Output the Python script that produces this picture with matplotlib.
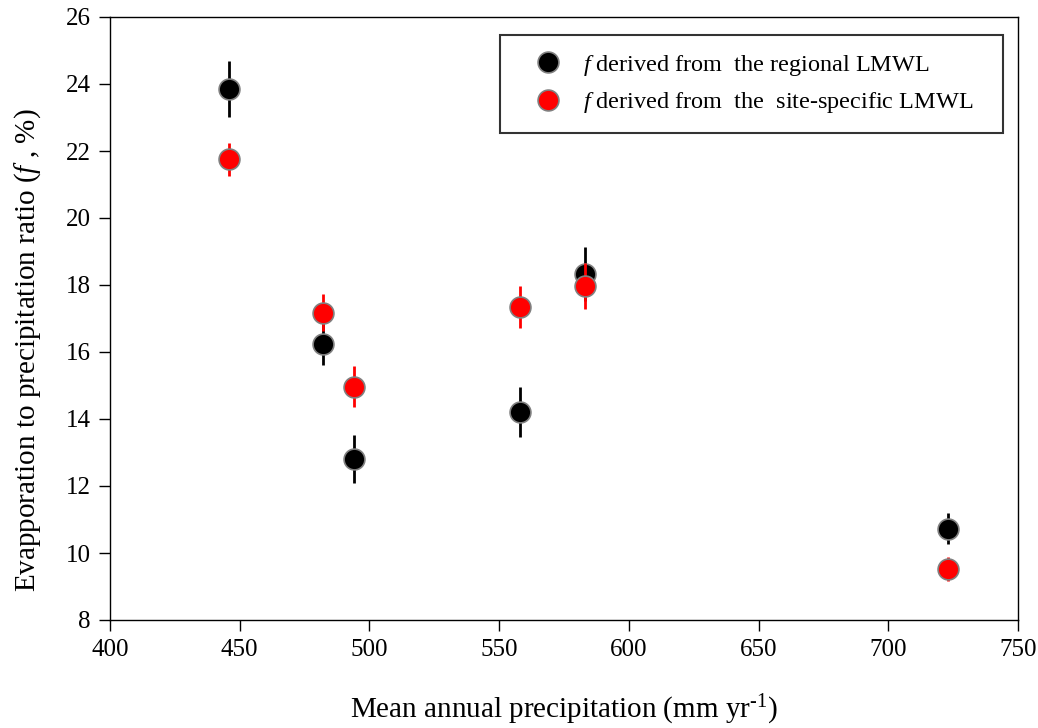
import matplotlib
matplotlib.use("Agg")
import matplotlib.pyplot as plt
from matplotlib.lines import Line2D

plt.rcParams['font.family'] = ['Liberation Serif', 'DejaVu Serif']
plt.rcParams['mathtext.fontset'] = 'custom'
plt.rcParams['mathtext.rm'] = 'Liberation Serif'
plt.rcParams['mathtext.it'] = 'Liberation Serif:italic'

# mean annual precipitation (mm/yr)
precip = [446, 482, 494, 558, 583, 723]

# f from the regional LMWL
f_regional = [23.85, 16.25, 12.80, 14.20, 18.32, 10.73]
err_regional = [0.85, 0.65, 0.72, 0.75, 0.80, 0.45]

# f from the site-specific LMWL
f_site = [21.75, 17.17, 14.97, 17.35, 17.97, 9.52]
err_site = [0.50, 0.55, 0.62, 0.62, 0.70, 0.35]

labels = [r'$f$ derived from  the regional LMWL',
          r'$f$ derived from  the  site-specific LMWL']

fig = plt.figure(figsize=(10.38, 7.28), dpi=100)
ax = fig.add_axes([110 / 1038, 1 - 620 / 728, 908 / 1038, 603 / 728])

ax.errorbar(precip, f_regional, yerr=err_regional, fmt='o', color='black',
            ecolor='black', elinewidth=2, markersize=15, markerfacecolor='black',
            markeredgecolor='#808080', markeredgewidth=1.2, capsize=0, zorder=3)
ax.errorbar(precip, f_site, yerr=err_site, fmt='o', color='red',
            ecolor='red', elinewidth=2, markersize=15, markerfacecolor='red',
            markeredgecolor='#808080', markeredgewidth=1.2, capsize=0, zorder=4)

ax.set_xlim(400, 750)
ax.set_ylim(8, 26)
ax.set_xticks(range(400, 751, 50))
ax.set_yticks(range(8, 27, 2))
ax.tick_params(direction='out', length=8, width=1, labelsize=18, pad=6)
for s in ax.spines.values():
    s.set_linewidth(1)

ax.set_xlabel(r'Mean annual precipitation (mm yr$^{\text{-1}}$)', fontsize=21, va='top')
ax.xaxis.set_label_coords(0.5, -0.121)
ax.set_ylabel(r'Evapporation to precipitation ratio ($f$ , %)', fontsize=21)
ax.yaxis.set_label_coords(-0.074, 0.448)

handles = [Line2D([], [], linestyle='none', marker='o', markersize=15,
                  markerfacecolor=c, markeredgecolor='#808080', markeredgewidth=1.2)
           for c in ['black', 'red']]
leg = ax.legend(handles, labels, loc='upper left',
                bbox_to_anchor=(0.4295, 0.808, 0.5535, 0.162),
                mode='expand', borderaxespad=0, fontsize=17.5, frameon=True,
                fancybox=False, handletextpad=0.2, borderpad=0.73,
                labelspacing=0.51, handlelength=2.49)
leg.get_frame().set_edgecolor('black')
leg.get_frame().set_linewidth(1.5)

fig.savefig('out.png', dpi=100)
